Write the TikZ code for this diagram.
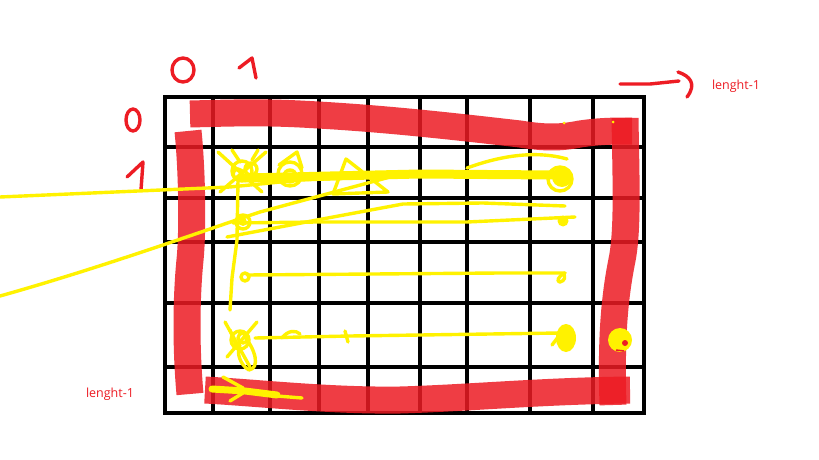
\documentclass[tikz,border=0pt]{standalone}
\usepackage{fontspec}
\setmainfont{Open Sans}
\begin{document}
\begin{tikzpicture}[x=1pt,y=-1pt,
  gridline/.style={line width=4.8pt, black, line cap=rect},
  band/.style={line width=27pt, draw=pred, opacity=0.85, line join=round},
  hand/.style={line width=3.4pt, pred, line cap=round, line join=round},
  yel/.style={line width=3.4pt, pyel, line cap=round, line join=round},
  yelthick/.style={line width=9pt, pyel, line cap=round, line join=round},
  lbl/.style={text=pred, font=\fontsize{12.5}{14}\selectfont, inner sep=0pt}]
\definecolor{pred}{HTML}{ED1C24}
\definecolor{pyel}{HTML}{FFF200}
\useasboundingbox (0,0) rectangle (819,460);
\fill[white] (0,0) rectangle (819,460);
% grid
\foreach \x in {165,213,270,319,368,420,467,530,593,644}
  \draw[gridline] (\x,97) -- (\x,413);
\foreach \y in {97,147,198,242,303,367,413}
  \draw[gridline] (165,\y) -- (644,\y);
% red bands
\draw[band] (190,114) .. controls (230,113) and (260,112) .. (300,114)
  .. controls (380,118) and (450,126) .. (520,134)
  .. controls (545,138) and (560,138) .. (580,134)
  .. controls (600,131) and (615,131) .. (632,131);
\draw[band] (625,118) .. controls (626,180) and (628,230) .. (622,260)
  .. controls (614,300) and (611,340) .. (613,405);
\draw[band] (205,390) .. controls (260,393) and (330,401) .. (400,400)
  .. controls (470,398) and (540,391) .. (630,390);
\draw[band] (188,131) .. controls (192,170) and (193,230) .. (190,260)
  .. controls (186,300) and (186,350) .. (190,394);
% handwritten digits
\draw[hand] (183,70) ellipse [x radius=11, y radius=12];
\draw[hand] (239,68) -- (252,58) -- (256,78);
\draw[hand] (133,120) ellipse [x radius=7, y radius=11];
\draw[hand] (127,177) -- (143,162) -- (141,190);
% top right arrow
\draw[hand] (620,84) -- (650,84) -- (679,81);
\draw[hand] (678,72) .. controls (690,76) and (697,84) .. (687,97);
\node[lbl] (lenA) at (736,86) {lenght-1};
\node[lbl] (lenB) at (110,394) {lenght-1};
% yellow: long lines from the left
\draw[yel] (0,197) -- (230,187) -- (300,180) -- (350,178);
\draw[yel] (0,296) .. controls (100,268) and (200,232) .. (260,212) -- (390,177);
% row 1 thick line and figures
\draw[yelthick] (245,178) -- (330,176) -- (420,174) -- (555,175);
\draw[yel] (242,171) circle (10);
\draw[yel] (251,169) circle (6);
\draw[yel] (238,174) circle (5);
\draw[yel] (218,152) -- (262,192);
\draw[yel] (266,152) -- (220,192);
\draw[yel] (232,150) -- (240,162);
\draw[yel] (258,150) -- (252,160);
\draw[yel] (290,174) circle (12);
\draw[yel] (290,176) circle (6);
\draw[yel] (279,165) -- (297,152) -- (302,168);
\draw[yel] (333,194) -- (346,159) -- (388,192) -- cycle;
\fill[pyel] (562,177) circle (10);
\draw[yel] (560,179) circle (12);
\draw[yel] (467,168) .. controls (500,156) and (535,150) .. (567,159);
% row 2
\draw[yel] (227,237) -- (317,220) -- (403,204) -- (483,203) -- (565,206);
\draw[yel] (233,223) -- (317,222) -- (467,222) -- (575,217);
\fill[pyel] (563,221) circle (5.5);
\draw[yel] (243,222) circle (7);
\fill[pyel] (243,222) circle (4);
\draw[yel] (238,180) -- (237,240) -- (232,278) -- (230,310);
% row 4
\draw[yel] (247,275) -- (500,273) -- (565,273);
\draw[yel] (245,277) circle (4);
\draw[yel] (565,273) .. controls (558,276) and (556,282) .. (560,282) .. controls (565,281) and (566,276) .. (563,274);
% row 5
\draw[yel] (240,340) circle (9);
\draw[yel] (243,338) circle (5);
\draw[yel] (225,322) -- (250,367);
\draw[yel] (257,322) -- (227,357);
\draw[yel] (230,330) -- (236,345);
\draw[yel] (244,336) .. controls (256,350) and (260,368) .. (249,370) .. controls (240,365) and (236,352) .. (240,345);
\draw[yel] (255,338) -- (350,336) -- (560,333);
\draw[yel] (282,338) .. controls (288,330) and (296,330) .. (300,334);
\draw[yel] (345,331) -- (348,342);
\fill[pyel] (566,338) ellipse [x radius=10, y radius=14];
\draw[yel] (562,332) -- (552,345);
\fill[pyel] (620,340) circle (12);
\fill[pred] (625,343) circle (3);
\draw[pred, line width=1.5pt] (616,350) -- (624,351);
% bottom scribble
\draw[yelthick, line width=7pt] (212,389) -- (245,391) -- (277,395);
\draw[yel] (277,396) -- (302,398);
\draw[yel] (223,377) -- (243,388);
\draw[yel] (230,401) -- (243,393);
% tiny yellow dots on top band
\fill[pyel] (564,123) circle (1.5);
\fill[pyel] (613,122) circle (1.5);
\end{tikzpicture}
\end{document}
